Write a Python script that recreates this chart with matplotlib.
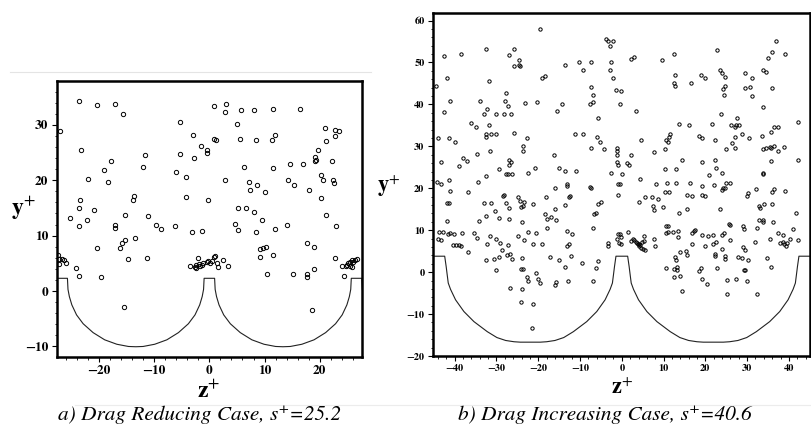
import numpy as np
import matplotlib
matplotlib.use('Agg')
import matplotlib.pyplot as plt
from matplotlib.lines import Line2D
from matplotlib.ticker import MultipleLocator

plt.rcParams['font.family'] = ['STIXGeneral', 'DejaVu Serif']
plt.rcParams['mathtext.fontset'] = 'stix'

# particle positions, drag reducing case (panel a)
za = [-27.0, -23.65, -20.3, -17.1, -15.7, -5.4, 0.8, 3.0, 2.8, 5.7, 8.0, 11.6, 16.4, 5.0, 20.9, 22.8, 23.5,
      22.7, 21.2, 11.8, 11.4, 8.4, 5.6, 0.85, 1.2, -3.0, -1.5, -0.5, -0.5, -2.7, -5.4, -11.7, -23.2, -17.9,
      -19.1, -18.3, -22.0, -12.1, -6.1, -4.2, 2.8, 6.3, 11.6, 7.2, 7.4, 8.6, 10.0, 14.2, 14.6, 15.3, 17.0,
      18.0, 19.7, 19.2, 19.1, 19.3, 22.3, 20.2, 20.5, 22.4, 22.6, 20.3, 21.1, 22.9, 14.1, 11.8, 8.4, 9.6,
      8.0, 6.6, 5.1, 4.6, 5.1, -0.3, -4.2, -1.3, -3.1, -6.2, -8.7, -9.7, -11.2, -13.6, -13.8, -15.2, -17.1,
      -17.1, -20.9, -23.4, -23.65, -22.2, -23.65, -25.2, -13.5, -15.3, -15.8, -16.2, -20.4, 17.6, 18.9, 9.2,
      9.7, 10.3, 11.5,
      -27.4, -27.2, -26.7, -26.3, -26.0, -27.3, -24.1, -23.65, -19.7, -14.8, -11.3, -15.4, -3.5, -2.6, -2.5,
      -2.1, -1.8, -1.4, -1.1, -0.5, -0.2, 0.1, 0.4, 0.8, 1.0, 1.3, 1.6, 2.4, 3.3, -2.4, -1.7, 10.5, 15.2,
      17.7, 17.6, 19.0, 18.6, 22.7, 24.3, 24.1, 24.7, 25.0, 25.2, 25.5, 25.8, 26.1, 26.4, 26.7, 25.9, 25.5,
      9.2]
ya = [28.9, 34.3, 33.5, 33.7, 31.9, 30.5, 33.3, 33.7, 32.3, 32.6, 32.6, 32.8, 32.9, 30.1, 29.5, 29.1, 28.9,
      28.0, 27.1, 28.1, 27.2, 27.2, 27.5, 27.5, 27.2, 28.1, 26.2, 25.4, 24.9, 24.0, 24.7, 24.6, 25.4, 23.4,
      21.8, 19.7, 20.3, 22.4, 21.5, 20.6, 20.1, 22.4, 22.2, 19.7, 18.2, 19.1, 17.8, 20.1, 22.9, 19.1, 23.0,
      18.2, 25.4, 24.1, 23.5, 23.7, 23.5, 21.0, 20.0, 20.1, 19.5, 16.7, 13.8, 11.8, 12.0, 11.2, 10.7, 12.8,
      14.3, 15.0, 15.0, 12.1, 11.1, 16.4, 17.0, 10.9, 10.7, 11.7, 11.2, 11.9, 13.6, 17.1, 16.4, 13.7, 11.9,
      11.4, 14.7, 16.4, 15.0, 12.9, 11.7, 13.2, 9.5, 9.3, 8.6, 7.8, 7.7, 8.7, 7.9, 7.6,
      7.7, 8.0, 6.5,
      6.5, 5.8, 5.7, 5.6, 5.0, 4.8, 4.1, 2.7, 2.6, 5.7, 5.9, -2.9, 4.5, 4.3, 4.7,
      5.9, 4.9, 4.7, 5.0, 5.3, 5.4, 5.1, 5.5, 6.2, 6.3, 5.0, 4.4, 5.6, 4.5, 4.1, 4.5, 3.0, 3.0,
      3.0, 2.5, 4.0, -3.4, 5.9, 2.7, 4.5, 4.5, 4.7, 5.0, 5.3, 5.6, 5.2, 5.6, 5.7, 4.4, 4.5,
      6.2]

# particle positions, drag increasing case (panel b)
zb = [-19.7, -3.7, -3.3, -2.8, -2.2, 36.8, -42.5, -38.5, -32.4, -26.9, -25.8, -24.7, -25.8, -24.6, -24.4,
      -19.1, -18.3, -13.5, -10.3, -9.2, -7.3, -2.8, -2.6, -2.0, 2.2, 2.8, 9.6, 12.4, 12.4, 12.8, 12.8, 16.5,
      19.0, 19.8, 22.9, 23.4, 24.1, 24.8, 24.7, 24.3, 24.5, 29.6, 31.2, 29.5, 30.7, 31.1, 33.9, 34.5, 35.9,
      34.9, 35.9, 39.0, 33.9, -41.8, -44.6, -31.8, -41.2, -42.6, -34.0, -33.1, -32.2, -30.0, -28.3, -26.5,
      -27.8, -27.9, -27.3, -23.2, -20.2, -15.4, -14.2, -7.4, -6.9, -7.6, -7.0, -1.4, -0.2, -0.5, 3.3, -5.6,
      -36.2, -34.9, -31.9, -31.2, -30.0, -32.4, -32.4, -25.9, -44.0, -41.3, -40.0, -22.6, -23.6, -23.6,
      -31.6, -34.7, -43.3, -37.9, -37.0, -38.9, -26.9, -26.6, -27.1, -27.3, -29.4, -27.7, -26.2, -32.6,
      -34.4, -41.3, -43.4, -44.3, -41.2, -36.8, -22.4, -20.7, -16.2, -15.1, -13.5, -10.9, -11.1, -9.3,
      -5.9, -5.2, -4.3, -7.4, -1.2, -1.1, -1.1, -1.1, -1.0, -2.6, 0.0, 1.2, 1.8, 2.2, 4.5, 4.3, 7.6, 10.4,
      10.5, 11.2, 11.6, 11.0, 13.8, 16.2, 18.5, 19.1, 14.4, 13.0, 10.4, 19.1, 21.7, 22.2, 22.4, 22.6, 20.9,
      23.9, 23.8, 26.1, 27.0, 27.3, 28.0, 27.6, 28.8, 27.2, 26.4, 24.9, 27.2, 30.4, 33.5, 35.6, 36.4, 37.5,
      33.9, 34.4, 35.5, 35.7, 36.4, 37.5, 38.8, 35.8, 42.2, 42.2, 33.9, 33.9, 32.1, 35.9, 36.5, 39.0, 30.3,
      29.9, 25.8, 25.0, 23.9, 24.3, 24.8, 22.0, 19.2, 19.2, 20.0, 16.3, 15.6, 16.7, 13.0, 10.7, 10.4, 11.4,
      8.1, 7.2, 8.7, 5.6, -1.0, -0.4, -1.0, -7.5, -7.3, -13.2, -13.1, -12.7, -12.3, -16.0, -18.2, -24.9,
      -28.5, -28.1,
      -41.8, -41.3, -41.8, -41.6, -41.2, -43.8, -42.9, -44.1, -43.3, -40.2, -38.2, -40.4, -39.7, -39.0,
      -38.6, -36.9, -35.5, -34.6, -34.3, -32.6, -31.4, -32.9, -31.5, -32.3, -32.4, -30.5, -29.4, -30.0,
      -29.2, -30.3, -29.4, -27.8, -27.0, -26.9, -28.6, -27.2, -27.4, -26.7, -26.2, -30.0, -26.8, -24.3,
      -23.3, -24.1, -23.7, -24.0, -24.8, -23.5, -24.0, -24.1, -23.7, -24.0, -24.1, -22.4, -21.3, -21.3,
      -20.5, -22.5, -22.6, -20.5, -20.0, -19.7, -21.3, -21.5, -18.5, -18.0, -17.9, -19.1, -17.1, -16.9,
      -15.9, -15.7, -16.0, -15.8, -15.1, -13.5, -13.2, -13.5, -13.2, -12.6, -13.0, -11.9, -12.2, -9.5,
      -6.9, -6.7, -6.1, -5.6, -5.0, -5.7, -6.1, -6.9, -3.3, -3.3, -1.2, -1.0, -0.4, -0.2, -0.6, -0.2, 1.5,
      2.2, 2.6, 2.9, 3.3, 3.6, 3.8, 4.2, 4.1, 4.4, 4.6, 4.9, 5.1, 5.3, 5.6, 5.4, 4.1,
      7.6, 8.0, 7.4, 7.8, 9.8, 10.6, 11.1, 10.6, 11.1, 12.3, 13.4, 13.7, 13.5, 10.6, 12.6, 13.1, 13.3,
      12.8, 12.9, 12.6, 13.9, 14.3, 13.9, 15.6, 15.4, 15.6, 16.8, 17.2, 17.6, 16.9, 19.2, 19.9, 18.4, 18.9,
      19.3, 20.4, 20.7, 21.8, 21.9, 22.3, 22.2, 22.6, 22.9, 23.4, 24.0, 24.5, 24.1, 24.7, 24.8, 25.1, 25.1,
      25.6, 25.8, 25.9, 27.3, 27.9, 28.7, 29.1, 29.2, 28.9, 29.6, 29.3, 29.6, 29.9, 30.1, 31.9, 32.3, 32.3,
      32.9, 33.2, 32.8, 33.7, 33.9, 34.0, 34.7, 35.5, 35.7, 36.1, 35.9, 37.3, 38.5, 37.9, 38.7, 38.8, 39.2,
      39.5, 40.3, 41.1, 41.7, 42.2]
yb = [58.0, 55.5, 55.1, 54.0, 55.2, 55.1, 51.5, 52.1, 53.1, 51.8, 53.1, 50.7, 49.1, 49.4, 49.1,
      46.3, 46.7, 49.5, 50.1, 48.2, 50.1, 48.3, 50.1, 46.2, 50.9, 51.3, 50.5, 52.1, 45.0, 44.5, 46.9, 45.0,
      47.0, 46.3, 52.9, 48.2, 47.5, 46.6, 44.5, 43.7, 42.3, 47.5, 46.3, 43.8, 44.2, 42.1, 48.2, 47.8, 52.5,
      51.1, 43.9, 52.1, 39.3, 46.2, 44.3, 45.7, 40.9, 38.2, 40.8, 37.8, 38.9, 37.7, 37.7, 37.6,
      42.8, 40.7, 39.6, 40.3, 40.6, 38.4, 40.1, 44.2, 42.3, 40.1, 40.6, 43.5, 43.1, 40.1, 38.4, 36.7,
      35.6, 34.7, 35.0, 33.0, 32.9, 32.9, 32.2, 33.2, 31.9, 32.1, 31.0, 31.9, 30.0, 29.0,
      28.9, 28.2, 26.3, 27.2, 26.5, 25.2, 26.8, 26.2, 25.5, 23.3, 24.6, 23.3, 23.3, 23.0,
      21.4, 22.0, 21.0, 21.4, 19.3, 19.2, 23.7, 24.8, 28.0, 24.9, 24.1, 24.1, 32.9, 32.9,
      32.2, 31.0, 29.4, 29.5, 29.7, 28.8, 27.9, 26.3, 25.6, 23.7, 23.3, 26.0, 25.5, 27.9, 31.6, 22.3, 28.7, 29.4,
      31.6, 32.2, 32.9, 31.1, 35.3, 35.1, 32.4, 31.9, 26.8, 24.6, 24.5, 26.3, 35.3, 31.5, 26.8, 24.8, 23.1,
      23.6, 37.7, 35.1, 34.5, 35.0, 35.1, 36.8, 33.0, 32.2, 30.7, 29.4, 29.5, 32.0, 32.4, 33.4, 34.7, 34.7,
      29.4, 29.7, 29.9, 29.5, 30.1, 28.8, 29.9, 26.4, 35.8, 26.8, 23.7, 23.3, 19.8, 19.0, 19.8, 19.3, 18.9,
      18.1, 21.3, 21.3, 19.7, 20.1, 20.0, 20.7, 20.5, 18.5, 18.1, 21.2, 18.4, 18.2, 21.2, 21.2, 19.0, 19.0,
      21.1, 17.8, 17.5, 17.8, 21.1, 21.1, 18.5, 20.3, 20.0, 21.0, 20.5, 18.0, 18.1, 20.0, 18.0, 18.0,
      18.2, 18.5,
      16.6, 16.6, 12.1, 9.0, 9.4, 9.5, 9.5, 7.8, 7.6, 9.2, 9.4, 6.4, 6.4, 6.4,
      6.3, 4.7, 9.4, 8.1, 12.2, 13.4, 16.6, 16.4, 8.7, 6.6, 2.8, 3.2, 3.5, 8.0,
      7.0, 14.6, 13.0, 16.6, 15.2, 12.7, 5.2, 6.4, 4.0, 4.4, 3.2, 0.6, -3.8, 17.0,
      16.7, 15.6, 15.8, 11.9, 8.7, 7.6, 3.4, 0.8, 0.7, -4.1, -7.2, 9.5, 16.2, 6.6,
      9.4, -2.0, -1.2, -0.2, -1.7, -2.6, -7.7, -13.3, 13.8, 12.6, 10.6, 6.7, 3.5, 13.2,
      15.0, 12.4, -3.0, -2.4, 3.0, 16.0, 9.8, 1.2, 6.3, 6.6, -2.0, 9.2, 3.9, 2.2,
      10.6, 13.8, 14.0, 16.2, 16.8, 2.7, 0.9, -2.0, 7.0, 6.3, 7.9, 9.1, 9.1, 8.3, 7.0, 6.6, 9.5,
      7.4, 7.9, 7.6, 7.2, 7.0, 6.6, 6.8, 6.2, 6.4, 5.8, 7.1, 5.4, 7.4, 5.2, 8.6, 16.8,
      7.9, 6.2, 15.8, 14.8, 15.6, 11.0, 11.0, 9.4, 9.6, 9.5, 9.7, 14.2, 8.4, 1.0, 0.8, 1.2, 0.6,
      3.5, 2.8, -1.2, -1.0, -4.4, 4.8, 15.0, 5.0, 4.1, 9.4, 9.8, 10.0, 6.6, 8.8, 6.2, 0.3, 0.9,
      -1.7, -2.9, 8.6, 8.9, 6.7, 4.4, 3.8, 7.2, 1.1, 15.0, 8.8, 9.4, 5.4, 3.8, 3.2, -1.8, -5.2,
      11.5, 11.2, 7.6, -1.7, 3.6, 3.4, 11.0, 10.4, 6.0, 5.2, 0.6, 0.6, -2.2, 2.8, 7.1, 10.6, -5.2,
      15.8, 15.4, 12.4, 12.4, 12.0, 16.2, 3.4, 7.9, 1.2, 12.0, 16.2, 9.4, 8.8, 7.0, 7.1, 6.6, 6.3,
      7.0, 7.9, 10.3, 14.0, 7.6]

# riblet wall: distance from tip centre and wall height, half a period
wall_a_off = [0.0, 0.95, 1.05, 1.3, 1.75, 2.6, 3.8, 5.6, 7.7, 9.9, 12.0, 13.33]
wall_a_y = [2.3, 2.3, 0.3, -1.0, -2.5, -4.3, -5.9, -7.5, -8.8, -9.6, -10.0, -10.05]
period_a = 26.66
wall_b_off = [0.0, 1.4, 1.75, 2.0, 2.25, 2.8, 4.0, 6.0, 8.4, 11.6, 13.9, 16.0, 18.0, 19.5, 21.9]
wall_b_y = [3.8, 3.8, 1.35, -0.65, -2.6, -4.1, -6.6, -9.4, -11.8, -14.2, -15.6, -16.3, -16.6, -16.7, -16.7]
period_b = 43.8


def wall(off, h, period, ks):
    off = np.array(off)
    h = np.array(h)
    zz = np.concatenate([off, period - off[::-1]])
    yy = np.concatenate([h, h[::-1]])
    z_all = np.concatenate([zz + k * period for k in ks])
    y_all = np.concatenate([yy for k in ks])
    return z_all, y_all


fig = plt.figure(figsize=(8.11, 4.29), dpi=100)
ax1 = fig.add_axes([57 / 811, 1 - 357 / 429, 305 / 811, 276 / 429])
ax2 = fig.add_axes([433 / 811, 1 - 356 / 429, 377 / 811, 343 / 429])

panels = [
    (ax1, za, ya, wall(wall_a_off, wall_a_y, period_a, [-2, -1, 0, 1]), (-27.6, 27.65), (-11.9, 37.9),
     3.1, 9.5, 10),
    (ax2, zb, yb, wall(wall_b_off, wall_b_y, period_b, [-2, -1, 0, 1]), (-45.2, 45.05), (-20, 61.8),
     2.4, 7.5, 10),
]

for ax, z, y, (wz, wy), xl, yl, ms, fs, step in panels:
    ax.plot(wz, wy, color='#222222', lw=0.8)
    ax.plot(z, y, 'o', ms=ms, mfc='none', mec='black', mew=0.7, ls='none')
    ax.set_xlim(*xl)
    ax.set_ylim(*yl)
    ax.xaxis.set_major_locator(MultipleLocator(step))
    ax.yaxis.set_major_locator(MultipleLocator(step))
    ax.xaxis.set_minor_locator(MultipleLocator(2))
    ax.yaxis.set_minor_locator(MultipleLocator(2))
    ax.tick_params(which='major', direction='out', length=3.6, width=0.8, labelsize=fs, pad=2.5,
                   top=False, right=False)
    ax.tick_params(which='minor', direction='out', length=1.8, width=0.6, top=False, right=False)
    for sp in ax.spines.values():
        sp.set_linewidth(1.8)
    for lab in ax.get_xticklabels() + ax.get_yticklabels():
        lab.set_fontweight('bold')

fig.text(23 / 811, 1 - 208 / 429, r'$\mathbf{y}^{+}$', fontsize=17, ha='center', va='center')
fig.text(209 / 811, 1 - 392 / 429, r'$\mathbf{z}^{+}$', fontsize=17, ha='center', va='center')
fig.text(389 / 811, 1 - 186 / 429, r'$\mathbf{y}^{+}$', fontsize=16, ha='center', va='center')
fig.text(622 / 811, 1 - 389 / 429, r'$\mathbf{z}^{+}$', fontsize=16, ha='center', va='center')

fig.text(200 / 811, 1 - 415 / 429, 'a) Drag Reducing Case, s\u207a=25.2', fontsize=15.3, style='italic',
         ha='center', va='center')
fig.text(605 / 811, 1 - 415 / 429, 'b) Drag Increasing Case, s\u207a=40.6', fontsize=15.3, style='italic',
         ha='center', va='center')

# faint scan lines of the original figure
fig.add_artist(Line2D([10 / 811, 371 / 811], [1 - 72 / 429] * 2, color='#e4e4e4', lw=0.8))
fig.add_artist(Line2D([75 / 811, 811 / 811], [1 - 405 / 429] * 2, color='#ececec', lw=0.8))

fig.savefig('out.png', dpi=100)
